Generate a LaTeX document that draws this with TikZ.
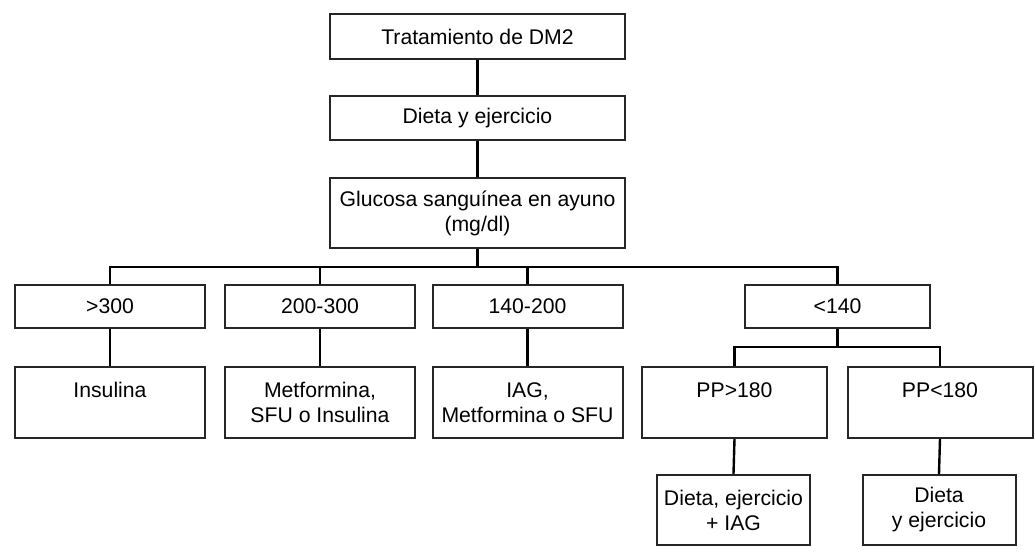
\documentclass[tikz,border=0pt]{standalone}
\usepackage{fontspec}
\setmainfont{Liberation Sans}

\tikzset{
	box/.style = {draw=black!85, line width=1pt, inner sep=0pt, align=center,
		font=\fontsize{10.6}{12.5}\selectfont},
	wide/.style = {box, minimum width=147.5pt},
	mid/.style = {box, minimum width=95pt},
	small/.style = {box, minimum width=76.5pt},
	link/.style = {line width=1.2pt}
}

\begin{document}
\begin{tikzpicture}[x=0.5pt, y=-0.5pt]
	\useasboundingbox (0,0) rectangle (1035,556);

	\node[wide, minimum height=22.5pt] (trat) at (477.5,37) {Tratamiento de DM2};
	\node[wide, minimum height=22pt] (dieta) at (477.5,118) {Dieta y ejercicio};
	\node[wide, minimum height=35pt] (gluc) at (477.5,213) {Glucosa sanguínea en ayuno\\(mg/dl)};

	\node[mid, minimum height=21.5pt] (mas300) at (110,306.5) {>300};
	\node[mid, minimum height=21.5pt] (r200) at (320,306.5) {200-300};
	\node[mid, minimum height=21.5pt] (r140) at (527.5,306.5) {140-200};
	\node[mid, minimum height=21.5pt, minimum width=92.5pt] (men140) at (837.5,306.5) {<140};

	\node[mid, minimum height=35.5pt] (insul) at (110,402.5) {Insulina\\\phantom{Insulina}};
	\node[mid, minimum height=35.5pt] (metf) at (320,402.5) {Metformina,\\SFU o Insulina};
	\node[mid, minimum height=35.5pt] (iag) at (527.5,402.5) {IAG,\\Metformina o SFU};
	\node[mid, minimum height=35.5pt, minimum width=92.5pt] (ppmas) at (734.5,402.5) {PP>180\\\phantom{PP}};
	\node[mid, minimum height=35.5pt, minimum width=92.5pt] (ppmen) at (940,402.5) {PP<180\\\phantom{PP}};

	\node[small, minimum height=35pt] (dieiag) at (733.5,510) {Dieta, ejercicio\\+ IAG};
	\node[small, minimum height=35pt] (diejer) at (939,510) {Dieta\\y ejercicio};

	\coordinate (bus) at (477.5,267);
	\coordinate (bus2) at (837.5,347);

	\draw[link] (trat) -- (dieta);
	\draw[link] (dieta) -- (gluc);
	\draw[link] (gluc) -- (bus);
	\draw[link] (mas300.north) |- (bus) -| (men140.north);
	\draw[link] (r200.north) |- (bus);
	\draw[link] (r140.north) |- (bus);

	\draw[link] (mas300) -- (insul);
	\draw[link] (r200) -- (metf);
	\draw[link] (r140) -- (iag);

	\draw[link] (men140) -- (bus2);
	\draw[link] (ppmas.north) |- (bus2) -| (ppmen.north);
	\draw[link] (ppmas.south) -- (dieiag.north);
	\draw[link] (ppmen.south) -- (diejer.north);
\end{tikzpicture}
\end{document}
